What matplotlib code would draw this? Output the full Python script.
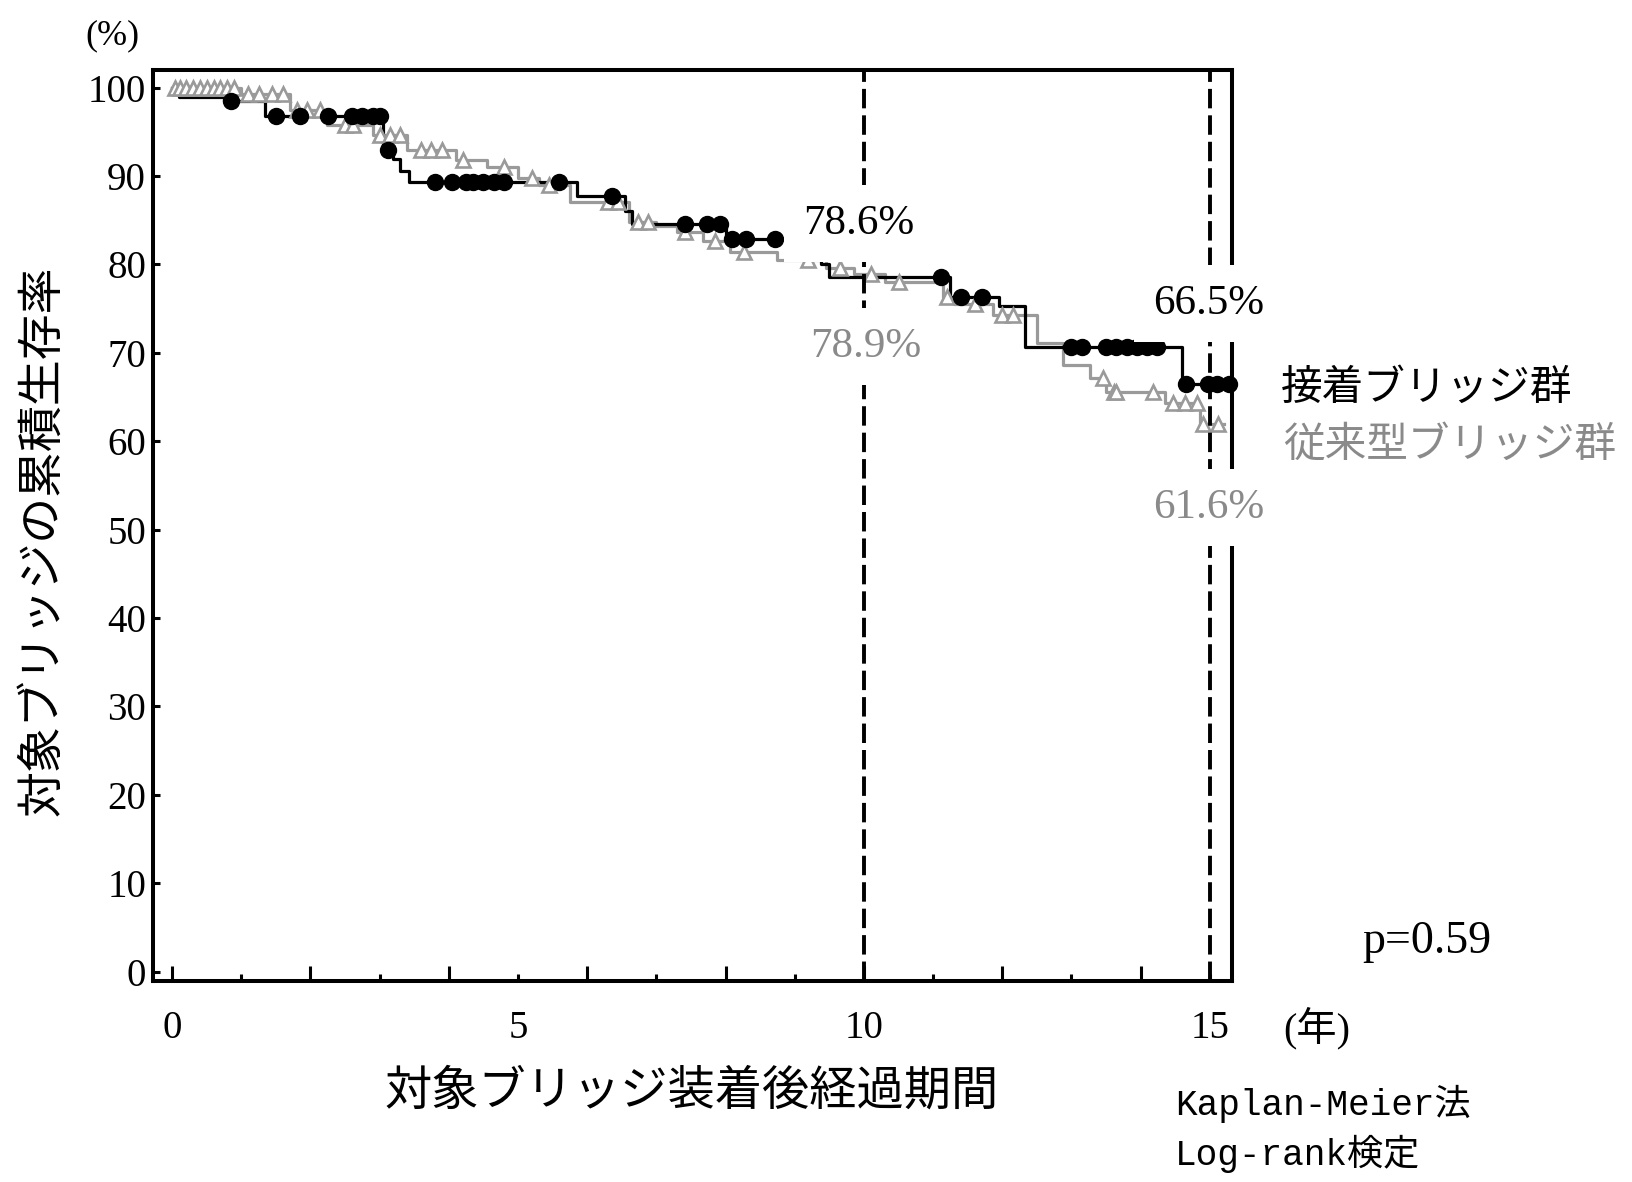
import numpy as np
import matplotlib
matplotlib.use("Agg")
import matplotlib.pyplot as plt

# ---------------- data ----------------
# 接着ブリッジ群 (black): event times (years) and survival (%) after each drop
black_event_times = [0.10, 0.75, 1.35, 3.05, 3.20, 3.30, 3.42, 5.85, 6.55, 6.65,
                     8.00, 9.38, 9.50, 11.25, 11.95, 12.33, 14.60]
black_event_surv = [99.0, 98.5, 96.8, 93.0, 91.9, 90.6, 89.3, 87.8, 86.0, 84.6,
                    82.9, 80.0, 78.6, 76.3, 75.3, 70.7, 66.5]
black_censor_times = [0.85, 1.50, 1.85, 2.25, 2.60, 2.75, 2.90, 3.00, 3.12,
                      3.80, 4.05, 4.25, 4.35, 4.50, 4.65, 4.80, 5.60, 6.36,
                      7.42, 7.73, 7.92, 8.10, 8.30, 8.72, 11.12, 11.40, 11.70,
                      13.00, 13.15, 13.50, 13.65, 13.80, 13.95, 14.09, 14.23,
                      14.65, 14.97, 15.10, 15.28]
black_end = 15.30

# 従来型ブリッジ群 (gray)
gray_event_times = [1.00, 1.70, 2.24, 2.90, 3.40, 4.10, 4.55, 5.00, 5.30, 5.75,
                    6.60, 7.00, 7.30, 7.68, 8.06, 8.74, 9.45, 9.85, 10.30,
                    11.15, 11.30, 11.87, 12.50, 12.88, 13.27, 13.50, 14.35, 14.86]
gray_event_surv = [99.3, 97.5, 95.8, 94.6, 92.9, 91.8, 91.0, 89.8, 89.0, 87.1,
                   84.8, 84.3, 83.7, 82.6, 81.4, 80.5, 79.6, 78.9, 78.0,
                   76.3, 75.5, 74.3, 71.1, 68.6, 67.1, 65.6, 64.3, 62.0]
gray_censor_times = [0.05, 0.12, 0.20, 0.30, 0.40, 0.50, 0.60, 0.70, 0.80, 0.90,
                     1.10, 1.25, 1.45, 1.60, 1.80, 1.95, 2.14, 2.50, 2.62,
                     3.00, 3.15, 3.30, 3.60, 3.75, 3.90, 4.20, 4.80, 5.20, 5.45,
                     6.30, 6.45, 6.73, 6.88, 7.41, 7.85, 8.26, 9.19, 9.65, 10.10,
                     10.50, 11.20, 11.60, 12.00, 12.15, 13.46, 13.61, 13.65,
                     14.18, 14.47, 14.64, 14.81, 14.90, 15.12]
gray_end = 15.20

x_tick_labels = ["0", "5", "10", "15"]
x_tick_pos = [0, 5, 10, 15]
y_ticks = list(range(0, 101, 10))

marker_years = [10, 15]
black_labels = ["78.6%", "66.5%"]
gray_labels = ["78.9%", "61.6%"]
legend_names = ["接着ブリッジ群", "従来型ブリッジ群"]

GRAY = "#9a9a9a"
GRAY_TXT = "#8a8a8a"
SERIF = ["Liberation Serif", "Noto Sans CJK JP"]
MONO = ["Liberation Mono", "Noto Sans CJK JP"]
CJK = ["Noto Sans CJK JP", "DejaVu Sans"]

W, H = 1633, 1182
fig = plt.figure(figsize=(W / 100, H / 100), dpi=100)
ax = fig.add_axes([153 / W, 1 - 981 / H, (1232 - 153) / W, (981 - 70) / H])
ax.set_xlim(-0.275, 15.32)
ax.set_ylim(-1.06, 102.0)


def km_path(times, surv, end):
    t = np.concatenate([[0.0], times, [end]])
    s = np.concatenate([[100.0], surv, [surv[-1]]])
    return t, s


def surv_at(times, surv, ct):
    times = np.asarray(times)
    surv = np.asarray(surv)
    idx = np.searchsorted(times, ct, side="right") - 1
    out = np.where(idx >= 0, surv[np.clip(idx, 0, None)], 100.0)
    return out


bt, bs = km_path(black_event_times, black_event_surv, black_end)
gt, gs = km_path(gray_event_times, gray_event_surv, gray_end)
ax.step(gt, gs, where="post", color=GRAY, lw=2.3, zorder=2)
ax.step(bt, bs, where="post", color="black", lw=2.3, zorder=2.1)

gc = np.array(gray_censor_times)
ax.plot(gc, surv_at(gray_event_times, gray_event_surv, gc), ls="none",
        marker="^", ms=10.5, mfc="white", mec=GRAY, mew=1.9, zorder=3,
        clip_on=False)
bc = np.array(black_censor_times)
ax.plot(bc, surv_at(black_event_times, black_event_surv, bc), ls="none",
        marker="o", ms=11.5, mfc="black", mec="black", zorder=3.1, clip_on=False)

for yr in marker_years:
    ax.axvline(yr, color="black", lw=2.8, ls=(0, (5, 1.8)), zorder=4)

# labels at 10 and 15 years
box = dict(boxstyle="square,pad=0.45", fc="white", ec="none")
ax.text(9.93, 84.6, black_labels[0], fontsize=31, family=SERIF, color="black",
        ha="center", va="center", bbox=box, zorder=6, clip_on=False)
ax.text(10.03, 70.7, gray_labels[0], fontsize=31, family=SERIF, color=GRAY_TXT,
        ha="center", va="center", bbox=box, zorder=6, clip_on=False)
ax.text(14.99, 75.6, black_labels[1], fontsize=31, family=SERIF, color="black",
        ha="center", va="center", bbox=box, zorder=6, clip_on=False)
ax.text(14.99, 52.5, gray_labels[1], fontsize=31, family=SERIF, color=GRAY_TXT,
        ha="center", va="center", bbox=box, zorder=6, clip_on=False)

# spines and ticks
for sp in ax.spines.values():
    sp.set_linewidth(2.9)
ax.set_xticks(np.arange(0, 16, 2))
ax.set_xticks(np.arange(1, 16, 2), minor=True)
ax.tick_params(axis="x", which="major", direction="in", length=11, width=2.2,
               labelbottom=False)
ax.tick_params(axis="x", which="minor", direction="in", length=5, width=2.2,
               labelbottom=False)
ax.set_yticks(y_ticks)
ax.set_yticklabels([str(v) for v in y_ticks])
ax.tick_params(axis="y", direction="in", length=5, width=2.2, pad=5,
               labelsize=28)
for lab in ax.get_yticklabels():
    lab.set_family(SERIF)

sec = ax.secondary_xaxis("bottom")
sec.set_xticks(x_tick_pos)
sec.set_xticklabels(x_tick_labels)
sec.tick_params(length=0, pad=21, labelsize=28)
sec.spines["bottom"].set_visible(False)
for lab in sec.get_xticklabels():
    lab.set_family(SERIF)

# figure texts
def ftext(x, y, s, **kw):
    fig.text(x / W, 1 - y / H, s, **kw)

ftext(112, 36, "(%)", fontsize=26, family=SERIF, ha="center", va="center")
ftext(42, 541, "対象ブリッジの累積生存率", fontsize=33, family=CJK,
      rotation=90, ha="center", va="center")
ftext(692, 1091, "対象ブリッジ装着後経過期間", fontsize=34, family=CJK,
      ha="center", va="center")
ftext(1317, 1028, "(年)", fontsize=29, family=SERIF, ha="center", va="center")
ftext(1281, 388, legend_names[0], fontsize=30, family=CJK, color="black",
      ha="left", va="center")
ftext(1283, 445, legend_names[1], fontsize=30, family=CJK, color=GRAY_TXT,
      ha="left", va="center")
ftext(1362, 942, "p=0.59", fontsize=33, family=SERIF, ha="left", va="center")
ftext(1175, 1104, "Kaplan-Meier法", fontsize=26, family=MONO, ha="left",
      va="center")
ftext(1175, 1154, "Log-rank検定", fontsize=26, family=MONO, ha="left",
      va="center")

fig.savefig("out.png", dpi=100)
